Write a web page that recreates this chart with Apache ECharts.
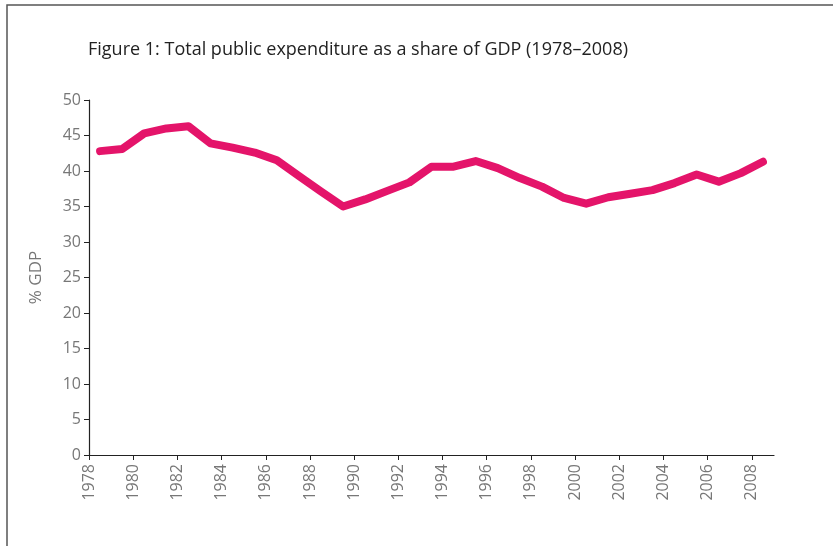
<!DOCTYPE html>
<html>
<head>
<meta charset="utf-8">
<title>Total public expenditure as a share of GDP</title>
<script src="https://cdn.jsdelivr.net/npm/echarts@6/dist/echarts.min.js"></script>
<style>
  html, body { margin: 0; padding: 0; background: #fff; }
  #chart { width: 833px; height: 546px; }
</style>
</head>
<body>
<div id="chart"></div>
<script>
// years 1978..2008, each value plotted in the middle of its year
const years = [1978, 1979, 1980, 1981, 1982, 1983, 1984, 1985, 1986, 1987,
  1988, 1989, 1990, 1991, 1992, 1993, 1994, 1995, 1996, 1997,
  1998, 1999, 2000, 2001, 2002, 2003, 2004, 2005, 2006, 2007, 2008]
const spending = [42.8, 43.1, 45.3, 46.0, 46.3, 43.9, 43.3, 42.6, 41.5, 39.3,
  37.1, 35.0, 36.0, 37.2, 38.4, 40.6, 40.6, 41.4, 40.4, 39.0,
  37.8, 36.2, 35.4, 36.3, 36.8, 37.3, 38.3, 39.5, 38.5, 39.7, 41.3]
const xTicks = [1978, 1980, 1982, 1984, 1986, 1988, 1990, 1992, 1994,
  1996, 1998, 2000, 2002, 2004, 2006, 2008]

const font = 'Open Sans'
const labelColor = '#777'
const axisColor = '#222'

const chart = echarts.init(document.getElementById('chart'))

chart.setOption({
  animation: false,
  textStyle: { fontFamily: font },
  title: {
    text: 'Figure 1: Total public expenditure as a share of GDP (1978–2008)',
    left: 83,
    top: 36,
    textStyle: { fontFamily: font, fontSize: 18, fontWeight: 'normal', color: '#222' }
  },
  graphic: [{
    type: 'rect',
    shape: { x: 7, y: 5, width: 900, height: 700 },
    style: { fill: null, stroke: '#555', lineWidth: 1.5 },
    silent: true
  }],
  grid: { left: 89, right: 59, top: 100, bottom: 91 },
  xAxis: {
    type: 'value',
    min: 1978,
    max: 2009,
    splitLine: { show: false },
    axisLine: { lineStyle: { color: axisColor, width: 1.2 } },
    axisTick: { customValues: xTicks, length: 5, lineStyle: { color: axisColor } },
    axisLabel: {
      customValues: xTicks,
      formatter: v => String(v),
      rotate: 90,
      margin: 9,
      fontSize: 16,
      color: labelColor,
      fontFamily: font
    }
  },
  yAxis: {
    type: 'value',
    min: 0,
    max: 50,
    interval: 5,
    name: '% GDP',
    nameLocation: 'middle',
    nameGap: 44,
    nameRotate: 90,
    nameTextStyle: { fontSize: 17, color: labelColor, fontFamily: font },
    splitLine: { show: false },
    axisLine: { show: true, lineStyle: { color: axisColor, width: 1.2 } },
    axisTick: { show: true, length: 5, lineStyle: { color: axisColor } },
    axisLabel: { margin: 8, fontSize: 16, color: labelColor, fontFamily: font }
  },
  series: [{
    type: 'line',
    data: years.map((y, i) => [y + 0.5, spending[i]]),
    showSymbol: false,
    lineStyle: { color: '#e4146a', width: 8, cap: 'round', join: 'round' }
  }]
})
</script>
</body>
</html>
